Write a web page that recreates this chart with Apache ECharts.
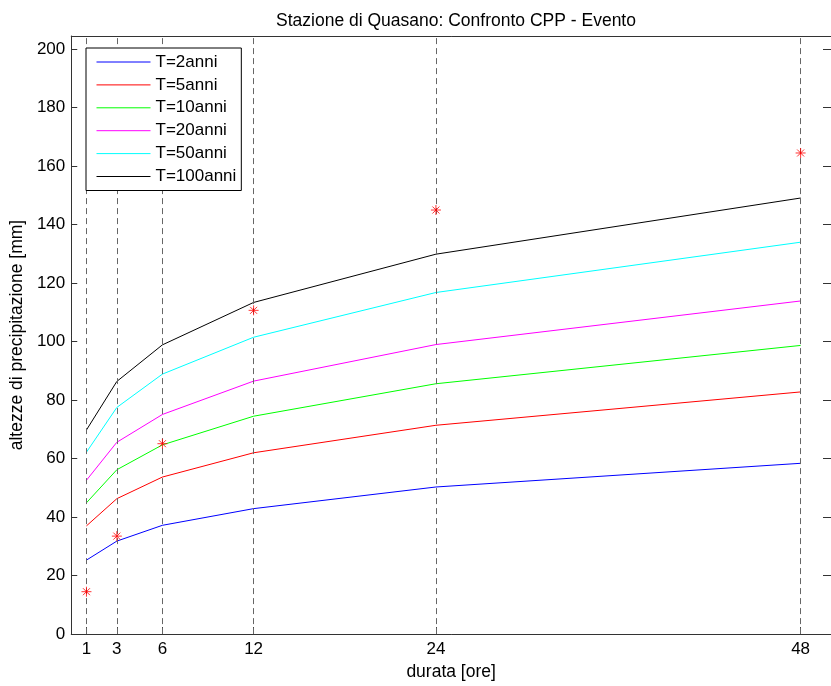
<!DOCTYPE html>
<html>
<head>
<meta charset="utf-8">
<script src="https://cdn.jsdelivr.net/npm/echarts@6/dist/echarts.min.js"></script>
<style>
html,body{margin:0;padding:0;background:#fff;}
#chart{width:831px;height:686px;}
</style>
</head>
<body>
<div id="chart"></div>
<script>
var durations = [1, 3, 6, 12, 24, 48];
var seriesNames = ['T=2anni', 'T=5anni', 'T=10anni', 'T=20anni', 'T=50anni', 'T=100anni'];
var T2 = [25.3, 31.8, 37.2, 42.9, 50.3, 58.4];
var T5 = [37.0, 46.3, 53.7, 62.0, 71.4, 82.8];
var T10 = [44.9, 56.2, 64.7, 74.5, 85.6, 98.7];
var T20 = [52.6, 65.6, 75.1, 86.5, 99.0, 113.9];
var T50 = [62.2, 77.5, 88.9, 101.5, 116.8, 134.0];
var T100 = [69.8, 86.4, 98.9, 113.4, 129.9, 149.1];
var evento = [14.5, 33.5, 65.1, 110.7, 145.0, 164.5];
var yTicks = [0, 20, 40, 60, 80, 100, 120, 140, 160, 180, 200];
var colors = ['#0000ff', '#ff0000', '#00ff00', '#ff00ff', '#00ffff', '#000000'];

var allSeries = [T2, T5, T10, T20, T50, T100];
function pairs(xs, ys) { return xs.map(function (x, i) { return [x, ys[i]]; }); }

var FONT = '"Liberation Sans", Arial, sans-serif';
var chart = echarts.init(document.getElementById('chart'), null, {renderer: 'canvas'});

var series = allSeries.map(function (vals, i) {
  return {
    name: seriesNames[i],
    type: 'line',
    data: pairs(durations, vals),
    symbol: 'none',
    lineStyle: {color: colors[i], width: 1},
    itemStyle: {color: colors[i]},
    z: 3
  };
});
series.unshift({
  name: 'grid',
  type: 'line',
  data: [],
  silent: true,
  z: 1,
  markLine: {
    silent: true,
    symbol: 'none',
    label: {show: false},
    lineStyle: {color: '#666', type: [6, 4], width: 1},
    data: durations.map(function (d) { return {xAxis: d}; })
  }
});
series.push({
  name: 'Evento',
  type: 'scatter',
  data: pairs(durations, evento),
  symbol: 'path://M5,0L5,10M0,5L10,5M1.5,1.5L8.5,8.5M1.5,8.5L8.5,1.5',
  symbolSize: 10,
  itemStyle: {color: 'rgba(0,0,0,0)', borderColor: '#ff0000', borderWidth: 1},
  z: 5
});

chart.setOption({
  animation: false,
  backgroundColor: '#ffffff',
  title: {
    text: 'Stazione di Quasano: Confronto CPP - Evento',
    left: 451, top: 7,
    textAlign: 'center',
    textStyle: {fontFamily: FONT, fontSize: 17.5, fontWeight: 'normal', color: '#000'}
  },
  legend: {
    data: seriesNames,
    orient: 'vertical',
    left: 86, top: 48,
    itemWidth: 54, itemHeight: 17, itemGap: 5.9,
    padding: [5.5, 5, 5.5, 10],
    borderColor: '#000', borderWidth: 1,
    backgroundColor: '#fff',
    itemStyle: {opacity: 0},
    lineStyle: {width: 1},
    textStyle: {fontFamily: FONT, fontSize: 17, color: '#000'},
    z: 10
  },
  grid: {left: 70, top: 36, width: 763, height: 600, containLabel: false},
  xAxis: [{
    type: 'value', min: 0, max: 50, position: 'bottom',
    name: 'durata [ore]', nameLocation: 'middle', nameGap: 28,
    nameTextStyle: {fontFamily: FONT, fontSize: 17.5, color: '#000'},
    axisLine: {show: true, lineStyle: {color: '#333', width: 1}},
    axisTick: {show: true, inside: true, length: 7, customValues: durations, lineStyle: {color: '#333'}},
    axisLabel: {customValues: durations, fontFamily: FONT, fontSize: 17, color: '#000', margin: 7},
    splitLine: {show: false}
  }, {
    type: 'value', min: 0, max: 50, position: 'top',
    axisLine: {show: true, onZero: false, lineStyle: {color: '#333', width: 1}},
    axisTick: {show: false}, axisLabel: {show: false}, splitLine: {show: false}
  }],
  yAxis: [{
    type: 'value', min: 0, max: 204.5, position: 'left',
    name: 'altezze di precipitazione [mm]', nameLocation: 'middle', nameGap: 40,
    nameTextStyle: {fontFamily: FONT, fontSize: 17.5, color: '#000'},
    axisLine: {show: true, lineStyle: {color: '#333', width: 1}},
    axisTick: {show: true, inside: true, length: 6, customValues: yTicks, lineStyle: {color: '#333'}},
    axisLabel: {customValues: yTicks, fontFamily: FONT, fontSize: 17, color: '#000', margin: 6},
    splitLine: {show: false}
  }, {
    type: 'value', min: 0, max: 204.5, position: 'right',
    axisLine: {show: true, onZero: false, lineStyle: {color: '#333', width: 1}},
    axisTick: {show: true, inside: true, length: 8, customValues: yTicks, lineStyle: {color: '#333'}},
    axisLabel: {show: false}, splitLine: {show: false}
  }],
  series: series
});
</script>
</body>
</html>
